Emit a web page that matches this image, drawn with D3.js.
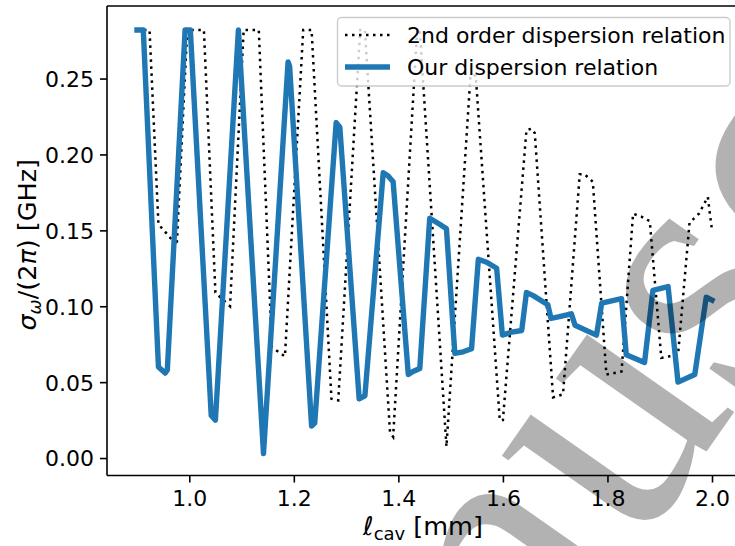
<!DOCTYPE html>
<html>
<head>
<meta charset="utf-8">
<script src="https://cdn.jsdelivr.net/npm/d3@7"></script>
<style>
  body { margin: 0; background: #fff; }
  svg { display: block; background: #fff; }
  text { font-family: "DejaVu Sans", sans-serif; fill: #000; }
</style>
</head>
<body>
<script>
// 2nd order dispersion relation (dotted)
var lcavOrder2 = [0.900, 0.924, 0.941, 0.954, 0.976, 0.996, 1.028, 1.050, 1.059, 1.078,
  1.104, 1.133, 1.158, 1.183, 1.218, 1.234, 1.272, 1.285, 1.327, 1.336,
  1.384, 1.390, 1.436, 1.441, 1.492, 1.538, 1.548, 1.594, 1.600, 1.645,
  1.655, 1.661, 1.696, 1.715, 1.747, 1.756, 1.772, 1.798, 1.827, 1.849,
  1.865, 1.881, 1.903, 1.919, 1.935, 1.957, 1.975, 1.992, 2.000];
var sigmaOrder2 = [0.282, 0.282, 0.154, 0.149, 0.140, 0.282, 0.282, 0.109, 0.106, 0.100,
  0.282, 0.282, 0.073, 0.067, 0.282, 0.282, 0.039, 0.038, 0.282, 0.282,
  0.017, 0.014, 0.282, 0.282, 0.0075, 0.252, 0.252, 0.025, 0.025, 0.216,
  0.217, 0.214, 0.040, 0.042, 0.187, 0.187, 0.182, 0.055, 0.057, 0.161,
  0.159, 0.156, 0.066, 0.067, 0.068, 0.155, 0.161, 0.172, 0.150];

// our dispersion relation (solid)
var lcavOurs = [0.900, 0.912, 0.941, 0.954, 0.958, 0.992, 1.002, 1.042, 1.050, 1.094,
  1.142, 1.189, 1.192, 1.234, 1.240, 1.281, 1.288, 1.325, 1.336, 1.371,
  1.380, 1.390, 1.419, 1.428, 1.441, 1.460, 1.479, 1.492, 1.508, 1.524,
  1.540, 1.553, 1.569, 1.588, 1.599, 1.617, 1.636, 1.645, 1.658, 1.686,
  1.692, 1.706, 1.731, 1.738, 1.779, 1.789, 1.827, 1.836, 1.871, 1.887,
  1.916, 1.935, 1.967, 1.989, 2.000];
var sigmaOurs = [0.282, 0.282, 0.060, 0.056, 0.058, 0.282, 0.282, 0.028, 0.025, 0.282,
  0.003, 0.261, 0.258, 0.021, 0.023, 0.221, 0.218, 0.039, 0.041, 0.188,
  0.186, 0.182, 0.055, 0.057, 0.059, 0.158, 0.154, 0.151, 0.069, 0.070,
  0.072, 0.131, 0.129, 0.125, 0.081, 0.083, 0.084, 0.109, 0.107, 0.101,
  0.092, 0.093, 0.095, 0.0875, 0.081, 0.102, 0.105, 0.068, 0.063, 0.1105,
  0.113, 0.050, 0.055, 0.106, 0.104];

var xTicks = [1.0, 1.2, 1.4, 1.6, 1.8, 2.0];
var yTicks = [0.00, 0.05, 0.10, 0.15, 0.20, 0.25];
var legendLabels = ["2nd order dispersion relation", "Our dispersion relation"];

var width = 735, height = 546;
var mLeft = 107, mRight = 742, mTop = 6, mBottom = 475.5;

var svg = d3.select("body").append("svg")
    .attr("width", width)
    .attr("height", height);

var x = d3.scaleLinear().domain([0.8426, 2.0574]).range([mLeft, mRight]);
var y = d3.scaleLinear().domain([-0.0115, 0.2978]).range([mBottom, mTop]);

svg.append("defs").append("clipPath").attr("id", "plotclip")
  .append("rect").attr("x", mLeft).attr("y", mTop)
  .attr("width", mRight - mLeft).attr("height", mBottom - mTop);

var line = d3.line()
    .x(function(d) { return x(d[0]); })
    .y(function(d) { return y(d[1]); });

var order2 = d3.zip(lcavOrder2, sigmaOrder2);
var ours = d3.zip(lcavOurs, sigmaOurs);

var plot = svg.append("g").attr("clip-path", "url(#plotclip)");

plot.append("path")
    .datum(order2)
    .attr("d", line)
    .attr("fill", "none")
    .attr("stroke", "#000")
    .attr("stroke-width", 2.5)
    .attr("stroke-dasharray", "2.5,4.5");

plot.append("path")
    .datum(ours)
    .attr("d", line)
    .attr("fill", "none")
    .attr("stroke", "#1f77b4")
    .attr("stroke-width", 5.4)
    .attr("stroke-linejoin", "round")
    .attr("stroke-linecap", "square");

// axes
var xAxis = svg.append("g")
    .attr("transform", "translate(0," + mBottom + ")")
    .call(d3.axisBottom(x).tickValues(xTicks).tickFormat(d3.format(".1f")).tickSize(7).tickPadding(8));
var yAxis = svg.append("g")
    .attr("transform", "translate(" + mLeft + ",0)")
    .call(d3.axisLeft(y).tickValues(yTicks).tickFormat(d3.format(".2f")).tickSize(7).tickPadding(6));

[xAxis, yAxis].forEach(function(a) {
  a.attr("font-size", null).attr("font-family", null);
  a.select(".domain").remove();
  a.selectAll(".tick line").attr("stroke", "#000").attr("stroke-width", 1.6);
  a.selectAll(".tick text").style("font-size", "22px").attr("fill", "#000");
});
yAxis.selectAll(".tick text").attr("dy", "0.36em");

// spines
svg.append("line").attr("x1", mLeft).attr("x2", mLeft).attr("y1", mTop).attr("y2", mBottom)
  .attr("stroke", "#000").attr("stroke-width", 1.6);
svg.append("line").attr("x1", mLeft).attr("x2", mRight).attr("y1", mBottom).attr("y2", mBottom)
  .attr("stroke", "#000").attr("stroke-width", 1.6);
svg.append("line").attr("x1", mLeft).attr("x2", mRight).attr("y1", mTop).attr("y2", mTop)
  .attr("stroke", "#000").attr("stroke-width", 1.6);
svg.append("line").attr("x1", mRight).attr("x2", mRight).attr("y1", mTop).attr("y2", mBottom)
  .attr("stroke", "#000").attr("stroke-width", 1.6);

// axis labels
var xl = svg.append("text")
    .attr("x", 423)
    .attr("y", 535)
    .attr("text-anchor", "middle")
    .style("font-size", "25.5px");
xl.append("tspan").style("font-style", "italic").text("ℓ");
xl.append("tspan").attr("dy", 5).style("font-size", "18px").text("cav");
xl.append("tspan").attr("dy", -5).text(" [mm]");

var yl = svg.append("text")
    .attr("transform", "translate(36," + ((mTop + mBottom) / 2 + 4) + ") rotate(-90)")
    .attr("text-anchor", "middle")
    .style("font-size", "25.5px");
yl.append("tspan").style("font-style", "italic").text("σ");
yl.append("tspan").attr("dy", 5).style("font-size", "18px").style("font-style", "italic").text("ω");
yl.append("tspan").attr("dy", -5).text("/(2");
yl.append("tspan").style("font-style", "italic").text("π");
yl.append("tspan").text(") [GHz]");

// legend
var lg = svg.append("g");
lg.append("rect")
    .attr("x", 337.5).attr("y", 17.5).attr("width", 392.5).attr("height", 68.5)
    .attr("rx", 4)
    .attr("fill", "#fff").attr("fill-opacity", 0.8)
    .attr("stroke", "#cccccc").attr("stroke-width", 1.4);
lg.append("line").attr("x1", 345).attr("x2", 390).attr("y1", 35).attr("y2", 35)
    .attr("stroke", "#000").attr("stroke-width", 2.5).attr("stroke-dasharray", "2.5,4.5");
lg.append("line").attr("x1", 345).attr("x2", 390).attr("y1", 67).attr("y2", 67)
    .attr("stroke", "#1f77b4").attr("stroke-width", 5.4);
lg.selectAll("text.lab").data(legendLabels).enter().append("text")
    .attr("class", "lab")
    .attr("x", 407)
    .attr("y", function(d, i) { return 43 + i * 32; })
    .style("font-size", "22px")
    .text(function(d) { return d; });

// page watermark lying over the figure
svg.append("text")
    .attr("transform", "translate(256,1095) rotate(-55)")
    .style("font-family", "'Liberation Serif', serif")
    .style("font-size", "360px")
    .attr("fill", "#000")
    .attr("fill-opacity", 0.3)
    .text("Manuscript");
</script>
</body>
</html>
